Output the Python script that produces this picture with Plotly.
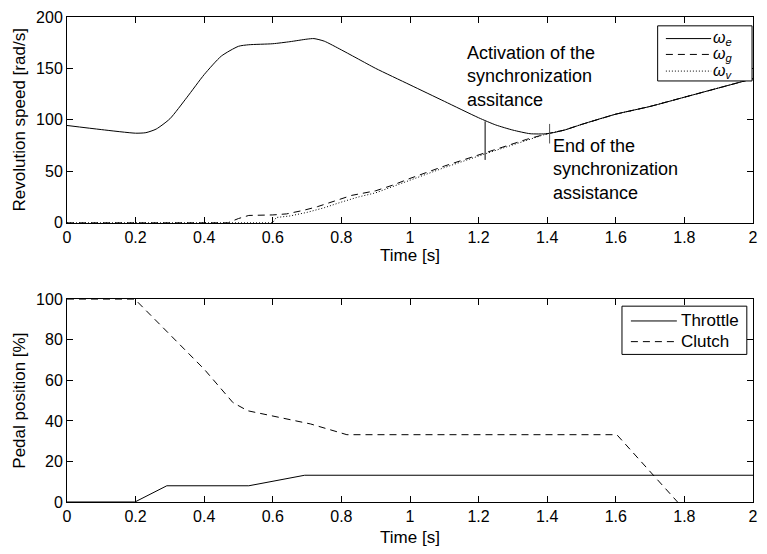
import plotly.graph_objects as go

# ---- Revolution speeds [rad/s] ----
t_e = [0.0, 0.1, 0.2, 0.23, 0.26, 0.3, 0.35, 0.4, 0.45, 0.5, 0.53, 0.6, 0.65, 0.7, 0.72,
       0.75, 0.8, 0.85, 0.9, 1.0, 1.1, 1.2, 1.25, 1.3, 1.35, 1.4, 1.45, 1.5, 1.6, 1.7,
       1.8, 1.9, 2.0]
omega_e = [94.5, 90.5, 87.0, 87.5, 91.0, 101.0, 122.0, 144.0, 162.0, 171.5, 173.0, 174.0,
           176.0, 178.5, 179.0, 176.5, 168.0, 159.0, 150.0, 134.0, 118.0, 102.0, 95.0,
           90.0, 86.5, 86.5, 90.0, 95.5, 105.5, 113.0, 122.0, 131.0, 140.0]

t_g = [0.0, 0.47, 0.5, 0.53, 0.6, 0.64, 0.69, 0.73, 0.78, 0.83, 0.9, 0.95, 1.0, 1.1, 1.22,
       1.34, 1.4, 1.45, 1.5, 1.6, 1.7, 1.8, 1.9, 2.0]
omega_g = [0.0, 0.0, 4.0, 7.0, 7.5, 8.5, 12.0, 15.5, 21.0, 26.5, 31.0, 36.5, 43.0, 55.0,
           68.0, 81.0, 86.5, 90.0, 95.5, 105.5, 113.0, 122.0, 131.0, 140.0]

t_v = [0.0, 0.6, 0.61, 0.65, 0.7, 0.75, 0.8, 0.85, 0.9, 1.0, 1.1, 1.22, 1.34, 1.4, 1.45,
       1.5, 1.6, 1.7, 1.8, 1.9, 2.0]
omega_v = [0.0, 0.0, 5.0, 6.5, 10.0, 14.5, 20.0, 25.0, 29.0, 41.0, 53.5, 67.0, 80.5, 86.5,
           90.0, 95.5, 105.5, 113.0, 122.0, 131.0, 140.0]

# synchronization assistance markers (time, low, high)
t_activation = 1.219
activation_span = [61.0, 98.5]
t_end = 1.407
end_span = [77.0, 96.0]

# ---- Pedal positions [%] ----
t_throttle = [0.0, 0.198, 0.291, 0.53, 0.693, 2.0]
throttle = [0.0, 0.0, 8.0, 8.0, 13.2, 13.2]
t_clutch = [0.0, 0.198, 0.4, 0.484, 0.527, 0.71, 0.816, 1.603, 1.78]
clutch = [100.0, 100.0, 65.5, 49.0, 45.0, 38.5, 33.2, 33.2, 0.0]

time_ticks = [0, 0.2, 0.4, 0.6, 0.8, 1.0, 1.2, 1.4, 1.6, 1.8, 2.0]
time_labels = ["0", "0.2", "0.4", "0.6", "0.8", "1", "1.2", "1.4", "1.6", "1.8", "2"]
speed_ticks = [0, 50, 100, 150, 200]
pedal_ticks = [0, 20, 40, 60, 80, 100]

FONT = "Liberation Sans, Arial, Helvetica, sans-serif"
BLACK = "#000000"
DASH = "7px,5px"
DOT = "1px,2px"

fig = go.Figure()

fig.add_trace(go.Scatter(x=t_e, y=omega_e, mode="lines",
                         line=dict(color=BLACK, width=1, shape="spline", smoothing=0.6),
                         xaxis="x", yaxis="y", showlegend=False))
fig.add_trace(go.Scatter(x=t_g, y=omega_g, mode="lines", line=dict(color=BLACK, width=1, dash=DASH),
                         xaxis="x", yaxis="y", showlegend=False))
fig.add_trace(go.Scatter(x=t_v, y=omega_v, mode="lines", line=dict(color=BLACK, width=1, dash=DOT),
                         xaxis="x", yaxis="y", showlegend=False))
fig.add_trace(go.Scatter(x=[t_activation, t_activation], y=activation_span, mode="lines",
                         line=dict(color=BLACK, width=1), xaxis="x", yaxis="y", showlegend=False))
fig.add_trace(go.Scatter(x=[t_end, t_end], y=end_span, mode="lines",
                         line=dict(color="#555555", width=1), xaxis="x", yaxis="y", showlegend=False))

fig.add_trace(go.Scatter(x=t_throttle, y=throttle, mode="lines", line=dict(color=BLACK, width=1),
                         xaxis="x2", yaxis="y2", showlegend=False))
fig.add_trace(go.Scatter(x=t_clutch, y=clutch, mode="lines", line=dict(color=BLACK, width=1, dash=DASH),
                         xaxis="x2", yaxis="y2", showlegend=False))

axis_common = dict(showline=True, linecolor=BLACK, linewidth=1, mirror="ticks", ticks="inside",
                   ticklen=6, tickcolor=BLACK, showgrid=False, zeroline=False,
                   tickfont=dict(family=FONT, size=16, color=BLACK))
title_font = dict(family=FONT, size=17, color=BLACK)

fig.update_layout(
    width=767, height=554,
    margin=dict(l=67, r=9, t=9, b=52),
    paper_bgcolor="white", plot_bgcolor="white",
    font=dict(family=FONT, color=BLACK),
    xaxis=dict(domain=[0, 1], anchor="y", range=[0, 2], tickvals=time_ticks, ticktext=time_labels,
               title=dict(text="Time [s]", font=title_font, standoff=2), **axis_common),
    yaxis=dict(domain=[0.576, 1.0], anchor="x", range=[0, 200], tickvals=speed_ticks,
               title=dict(text="Revolution speed [rad/s]", font=title_font, standoff=6),
               **axis_common),
    xaxis2=dict(domain=[0, 1], anchor="y2", range=[0, 2], tickvals=time_ticks, ticktext=time_labels,
                title=dict(text="Time [s]", font=title_font, standoff=6), **axis_common),
    yaxis2=dict(domain=[0, 0.418], anchor="x2", range=[0, 100], tickvals=pedal_ticks,
                title=dict(text="Pedal position [%]", font=title_font, standoff=6),
                **axis_common),
)

# text about the synchronization assistance
note_font = dict(family=FONT, size=18, color=BLACK)
fig.add_annotation(x=1.161, y=142.6, xref="x", yref="y", xanchor="left", yanchor="middle", align="left",
                   showarrow=False, text="Activation of the<br>synchronization<br>assitance", font=note_font)
fig.add_annotation(x=1.412, y=52, xref="x", yref="y", xanchor="left", yanchor="middle", align="left",
                   showarrow=False, text="End of the<br>synchronization<br>assistance", font=note_font)


# boxed legends drawn in axis-domain coordinates
def legend_box(xref, yref, x0, x1, y0, y1, entries, sx0, sx1, tx, size):
    fig.add_shape(type="rect", xref=xref, yref=yref, x0=x0, x1=x1, y0=y0, y1=y1,
                  line=dict(color=BLACK, width=1), fillcolor="white", layer="above")
    for yy, dash, label in entries:
        fig.add_shape(type="line", xref=xref, yref=yref, x0=sx0, x1=sx1, y0=yy, y1=yy,
                      line=dict(color=BLACK, width=1, dash=dash), layer="above")
        fig.add_annotation(xref=xref, yref=yref, x=tx, y=yy, xanchor="left", yanchor="middle",
                           showarrow=False, text=label, borderpad=0,
                           font=dict(family=FONT, size=size, color=BLACK))


legend_box("x domain", "y domain", 0.861, 0.9986, 0.689, 0.957,
           [(0.895, "solid", "<i>ω<sub>e</sub></i>"),
            (0.818, DASH, "<i>ω<sub>g</sub></i>"),
            (0.737, DOT, "<i>ω<sub>v</sub></i>")],
           0.873, 0.939, 0.940, 16)
legend_box("x2 domain", "y2 domain", 0.809, 0.991, 0.728, 0.966,
           [(0.893, "solid", "Throttle"), (0.791, DASH, "Clutch")],
           0.822, 0.889, 0.894, 17)

fig.write_html("out.html")
